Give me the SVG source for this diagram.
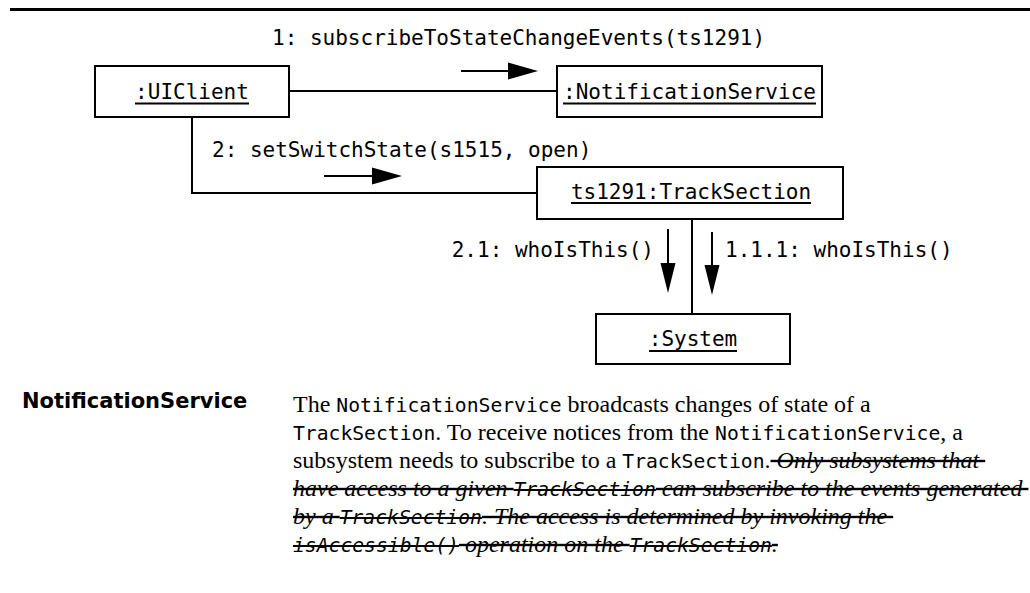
<svg xmlns="http://www.w3.org/2000/svg" width="1030" height="593" viewBox="0 0 1030 593">
<style>
  .box{fill:#fff;stroke:#000;stroke-width:2}
  .mono{font-family:"DejaVu Sans Mono",monospace;font-size:21px;fill:#000}
  .ul{stroke:#000;stroke-width:2}
  .conn{stroke:#000;stroke-width:2;fill:none}
  .msg{stroke:#000;stroke-width:2}
  .head{fill:#000}
  .body{font-family:"Liberation Serif",serif;font-size:24px;fill:#000;white-space:pre}
  .code{font-family:"DejaVu Sans Mono",monospace;font-size:19.7px}
  .it{font-style:italic}
  .st{text-decoration:line-through}
  .lbl{font-family:"DejaVu Sans",sans-serif;font-weight:bold;font-size:21px;fill:#000}
</style>
<rect width="1030" height="593" fill="#fff"/>
<line x1="10" y1="9.5" x2="1030" y2="9.5" stroke="#000" stroke-width="3"/>

<g id="connectors">
  <line class="conn" x1="289" y1="91" x2="557" y2="91"/>
  <polyline class="conn" points="192,117 192,193 537,193"/>
  <line class="conn" x1="692" y1="219" x2="692" y2="314"/>
</g>

<g id="messages">
  <text class="mono" x="272" y="45">1: subscribeToStateChangeEvents(ts1291)</text>
  <line class="msg" x1="461" y1="71" x2="510" y2="71"/>
  <polygon class="head" points="508,62.5 538,71 508,79.5"/>
  <text class="mono" x="212" y="157">2: setSwitchState(s1515, open)</text>
  <line class="msg" x1="324" y1="176" x2="374" y2="176"/>
  <polygon class="head" points="372,167.5 402,176 372,184.5"/>
  <text class="mono" x="654" y="257" text-anchor="end">2.1: whoIsThis()</text>
  <line class="msg" x1="668" y1="229" x2="668" y2="265"/>
  <polygon class="head" points="660.5,263 675.5,263 668,293"/>
  <text class="mono" x="725" y="257">1.1.1: whoIsThis()</text>
  <line class="msg" x1="712" y1="232" x2="712" y2="267"/>
  <polygon class="head" points="704.5,265 719.5,265 712,295"/>
</g>

<g id="uiclient">
  <rect class="box" x="95" y="66" width="194" height="51"/>
  <text class="mono" x="192" y="99" text-anchor="middle">:UIClient</text>
  <line class="ul" x1="135" y1="103.5" x2="249" y2="103.5"/>
</g>
<g id="notificationservice">
  <rect class="box" x="557" y="66" width="265" height="51"/>
  <text class="mono" x="689.5" y="98.5" text-anchor="middle">:NotificationService</text>
  <line class="ul" x1="563" y1="103.5" x2="816" y2="103.5"/>
</g>
<g id="tracksection">
  <rect class="box" x="537" y="167" width="306" height="52"/>
  <text class="mono" x="691" y="198.5" text-anchor="middle">ts1291:TrackSection</text>
  <line class="ul" x1="571" y1="203" x2="811" y2="203"/>
</g>
<g id="system">
  <rect class="box" x="596" y="314" width="194" height="50"/>
  <text class="mono" x="693" y="346" text-anchor="middle">:System</text>
  <line class="ul" x1="649" y1="351" x2="737" y2="351"/>
</g>

<g id="description">
  <text class="lbl" x="22" y="408">NotificationService</text>
  <text class="body" x="293" y="412">The <tspan class="code">NotificationService</tspan> broadcasts changes of state of a</text>
  <text class="body" x="293" y="440"><tspan class="code">TrackSection</tspan>. To receive notices from the <tspan class="code">NotificationService</tspan>, a</text>
  <text class="body" x="293" y="468">subsystem needs to subscribe to a <tspan class="code">TrackSection</tspan>.<tspan class="it st"> Only subsystems that </tspan></text>
  <text class="body it st" x="293" y="496">have access to a given <tspan class="code">TrackSection</tspan> can subscribe to the events generated </text>
  <text class="body it st" x="293" y="524">by a <tspan class="code">TrackSection</tspan>. The access is determined by invoking the </text>
  <text class="body it st" x="293" y="552"><tspan class="code">isAccessible()</tspan> operation on the <tspan class="code">TrackSection</tspan>.</text>
</g>
</svg>
